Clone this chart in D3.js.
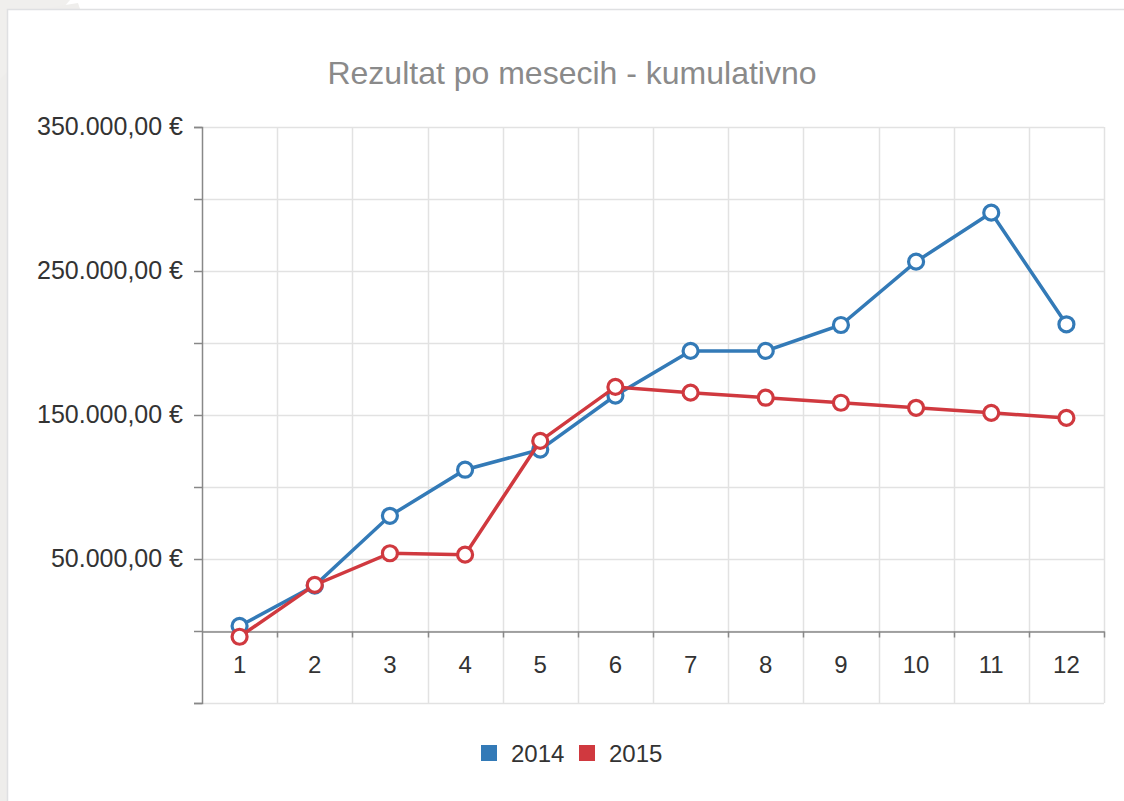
<!DOCTYPE html>
<html>
<head>
<meta charset="utf-8">
<script src="https://cdn.jsdelivr.net/npm/d3@7"></script>
<style>
  html, body { margin: 0; padding: 0; background: #fff; }
  body { width: 1124px; height: 801px; overflow: hidden; position: relative; }
  #chart { position: absolute; left: 0; top: 0; }
</style>
</head>
<body>
<div id="chart"></div>
<script>
// months and the two yearly series (cumulative result, EUR)
const months = ["1", "2", "3", "4", "5", "6", "7", "8", "9", "10", "11", "12"];
const values2014 = [3500, 31500, 80000, 112000, 126000, 163500, 194500, 194500, 212500, 256500, 290500, 213000];
const values2015 = [-4000, 32000, 54000, 53000, 132000, 169500, 165500, 162000, 158500, 155000, 151500, 148000];
const seriesNames = ["2014", "2015"];
const seriesColors = ["#337ab7", "#d0393f"];
const yTicks = [-50000, 0, 50000, 100000, 150000, 200000, 250000, 300000, 350000];
const yLabelTicks = [50000, 150000, 250000, 350000];

const width = 1124;
const height = 801;
const margin = { top: 127, right: 20, bottom: 98, left: 202 };
const font = "Liberation Sans, Arial, sans-serif";

const svg = d3.select("#chart")
    .append("svg")
        .attr("width", width)
        .attr("height", height)
        .attr("viewBox", [0, 0, width, height]);

// page background decoration + card
svg.append("rect").attr("x", 0).attr("y", 0).attr("width", 8).attr("height", height).attr("fill", "#eeedeb");
svg.append("path").attr("d", "M0,80 L0,0 L70,0 Z").attr("fill", "#f0efed");
svg.append("path").attr("d", "M40,9 L80,9 L78,3 Z").attr("fill", "#efeeec");
svg.append("rect")
    .attr("x", 7.5).attr("y", 9.5)
    .attr("width", width).attr("height", height)
    .attr("fill", "#fff")
    .attr("stroke", "#dfe0e2")
    .attr("stroke-width", 1.5);

svg.append("text")
    .attr("x", 572)
    .attr("y", 84)
    .attr("text-anchor", "middle")
    .attr("font-family", font)
    .attr("font-size", 32)
    .attr("fill", "#8a8a8a")
    .text("Rezultat po mesecih - kumulativno");

const x = d3.scaleBand()
    .domain(months)
    .range([margin.left, 1104]);

const y = d3.scaleLinear()
    .domain([-50000, 350000])
    .range([703, margin.top]);

// grid
const grid = svg.append("g").attr("stroke", "#e2e2e2").attr("stroke-width", 1.5);
grid.selectAll("line.h")
    .data(yTicks)
    .join("line")
        .attr("class", "h")
        .attr("x1", margin.left).attr("x2", 1104)
        .attr("y1", d => Math.round(y(d)) + 0.5)
        .attr("y2", d => Math.round(y(d)) + 0.5);
grid.selectAll("line.v")
    .data(months.slice(1).concat(["end"]))
    .join("line")
        .attr("class", "v")
        .attr("x1", (d, i) => i < 11 ? Math.round(x(d)) + 0.5 : 1104.5)
        .attr("x2", (d, i) => i < 11 ? Math.round(x(d)) + 0.5 : 1104.5)
        .attr("y1", margin.top)
        .attr("y2", 703);

const fmt = d3.formatLocale({ decimal: ",", thousands: ".", grouping: [3], currency: ["", " €"] }).format("$,.2f");

// y axis
const yAxis = svg.append("g")
    .attr("transform", `translate(${margin.left},0)`)
    .call(d3.axisLeft(y).tickValues(yTicks).tickSize(8).tickFormat(d => yLabelTicks.includes(d) ? fmt(d) : ""));
yAxis.select(".domain").attr("stroke", "#888").attr("stroke-width", 1.5);
yAxis.selectAll(".tick line").attr("stroke", "#888").attr("stroke-width", 1.5);
yAxis.selectAll(".tick text")
    .attr("x", -19)
    .attr("dy", "0.3em")
    .attr("font-family", font)
    .attr("font-size", 25)
    .attr("fill", "#333");

// x axis at zero
const xAxis = svg.append("g")
    .attr("transform", `translate(0,${Math.round(y(0)) + 0.5})`)
    .call(d3.axisBottom(x).tickSize(0).tickPadding(24));
xAxis.select(".domain").attr("stroke", "#888").attr("stroke-width", 1.5);
xAxis.selectAll(".tick text")
    .attr("font-family", font)
    .attr("font-size", 24)
    .attr("fill", "#333");
xAxis.selectAll("line.bt")
    .data(months.slice(1).concat(["end"]))
    .join("line")
        .attr("class", "bt")
        .attr("stroke", "#888")
        .attr("stroke-width", 1.5)
        .attr("x1", (d, i) => i < 11 ? Math.round(x(d)) + 0.5 : 1104.5)
        .attr("x2", (d, i) => i < 11 ? Math.round(x(d)) + 0.5 : 1104.5)
        .attr("y1", 0).attr("y2", 6);

// series
const series = [values2014, values2015];
const line = d3.line()
    .x((d, i) => x(months[i]) + x.bandwidth() / 2)
    .y(d => y(d));

series.forEach((vals, s) => {
    const g = svg.append("g");
    g.append("path")
        .datum(vals)
        .attr("fill", "none")
        .attr("stroke", seriesColors[s])
        .attr("stroke-width", 3.5)
        .attr("d", line);
    g.selectAll("circle")
        .data(vals)
        .join("circle")
            .attr("cx", (d, i) => x(months[i]) + x.bandwidth() / 2)
            .attr("cy", d => y(d))
            .attr("r", 7.5)
            .attr("fill", "#fff")
            .attr("stroke", seriesColors[s])
            .attr("stroke-width", 3.2);
});

// legend
const legend = svg.append("g").attr("transform", "translate(481,753)");
const items = legend.selectAll("g")
    .data(seriesNames)
    .join("g")
        .attr("transform", (d, i) => `translate(${i * 98},0)`);
items.append("rect")
    .attr("x", 0).attr("y", -8)
    .attr("width", 16).attr("height", 16)
    .attr("fill", (d, i) => seriesColors[i]);
items.append("text")
    .attr("x", 30)
    .attr("dy", "0.36em")
    .attr("font-family", font)
    .attr("font-size", 24)
    .attr("fill", "#333")
    .text(d => d);
</script>
</body>
</html>
